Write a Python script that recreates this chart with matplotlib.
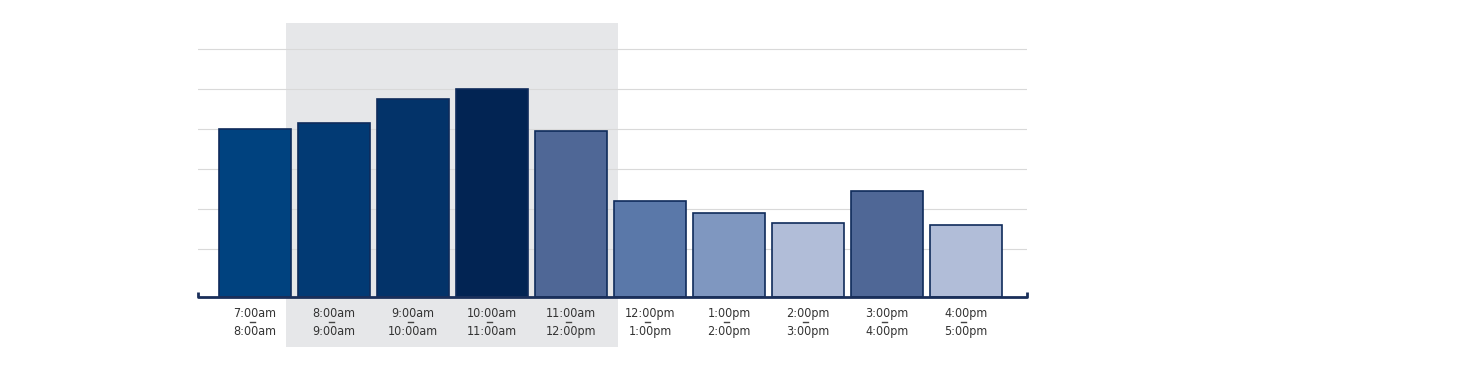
import matplotlib.pyplot as plt
from matplotlib.patches import Rectangle
import numpy as np

starts = ["7:00am", "8:00am", "9:00am", "10:00am", "11:00am",
          "12:00pm", "1:00pm", "2:00pm", "3:00pm", "4:00pm"]
ends = ["8:00am", "9:00am", "10:00am", "11:00am", "12:00pm",
        "1:00pm", "2:00pm", "3:00pm", "4:00pm", "5:00pm"]
values = [4.2, 4.35, 4.95, 5.2, 4.15, 2.4, 2.1, 1.85, 2.65, 1.8]
bar_colors = ["#00427f", "#023a74", "#033369", "#022453", "#4f6796",
              "#5a78a9", "#7f97c0", "#b1bdd8", "#4f6796", "#b1bdd8"]
grid_values = [1.2, 2.2, 3.2, 4.2, 5.2, 6.2]
highlight = (1, 4)  # first and last highlighted slot

plt.rcParams['font.family'] = ['DejaVu Sans']
plt.rcParams['font.stretch'] = 'condensed'

fig = plt.figure(figsize=(14.63, 3.77), dpi=100)
ax = fig.add_axes([0.1353, 0.2122, 0.5667, 0.7268])

x = np.arange(len(values))
x0, x1 = -0.72, len(values) - 1 + 0.77
ax.set_xlim(x0, x1)
ax.set_ylim(0, 6.85)

# shaded peak window, runs down behind the labels
ax.add_patch(Rectangle((highlight[0] - 0.6, -1.25), highlight[1] - highlight[0] + 1.2, 8.1,
                       facecolor="#e6e7e9", edgecolor="none", clip_on=False, zorder=0))

for g in grid_values:
    ax.axhline(g, color="#d9d9d9", linewidth=0.8, zorder=1)

ax.bar(x, values, width=0.91, color=bar_colors, edgecolor="#0f2b5b",
       linewidth=1.2, zorder=2)

# baseline with little end ticks
ax.plot([x0, x0, x1, x1], [0.13, 0, 0, 0.13], color="#1a2f5a", linewidth=2,
        clip_on=False, zorder=3, solid_capstyle="butt")

for xi, s, e in zip(x, starts, ends):
    ax.text(xi, -0.42, s, ha="center", va="center", fontsize=9, color="#333333")
    ax.text(xi, -0.85, e, ha="center", va="center", fontsize=9, color="#333333")
    # little dash between the two times
    ax.plot([xi - 0.06, xi], [-0.63, -0.63], color="#444444", linewidth=1,
            clip_on=False, zorder=4)

ax.set_xticks([])
ax.set_yticks([])
for sp in ax.spines.values():
    sp.set_visible(False)
ax.patch.set_visible(False)

fig.savefig("out.png", dpi=100)
